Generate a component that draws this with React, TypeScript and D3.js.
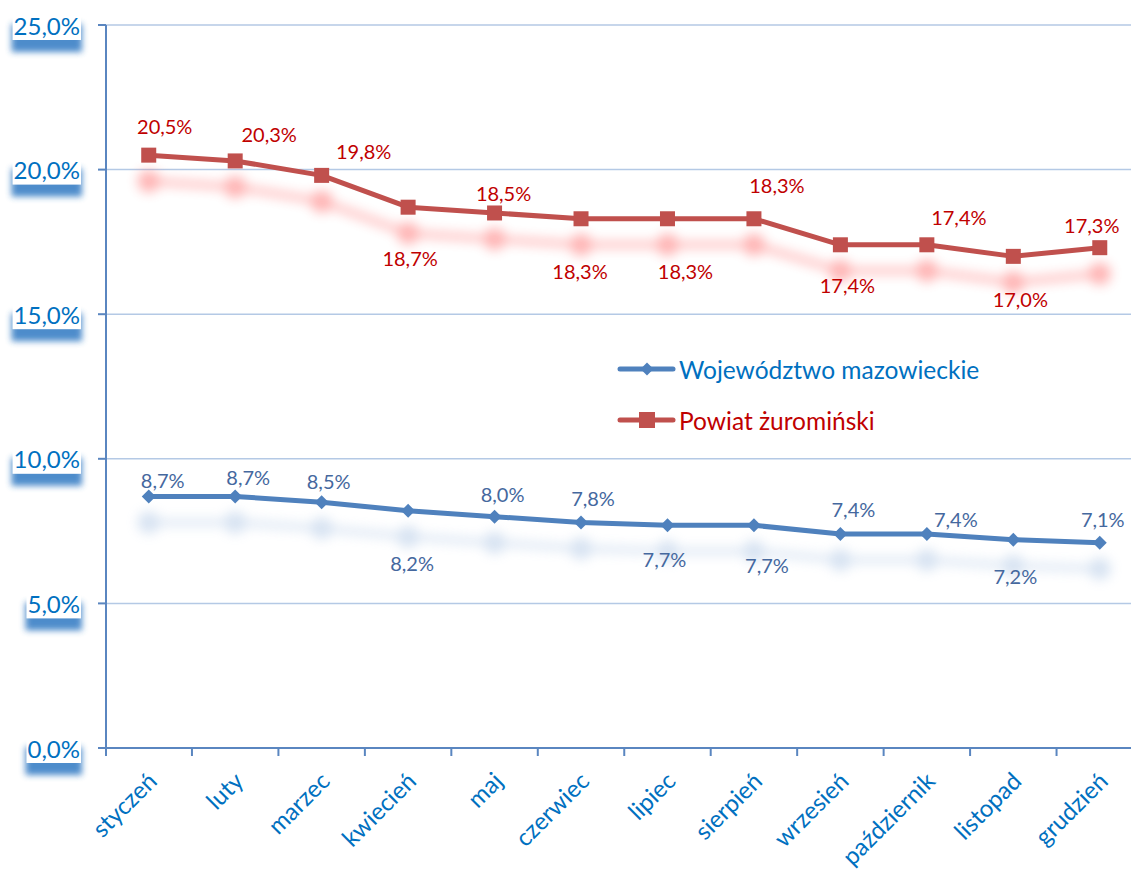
import React, { useEffect, useRef } from 'react';
import * as d3 from 'd3';

const months = ['styczeń', 'luty', 'marzec', 'kwiecień', 'maj', 'czerwiec', 'lipiec', 'sierpień', 'wrzesień', 'październik', 'listopad', 'grudzień'];
const mazowieckie = [8.7, 8.7, 8.5, 8.2, 8.0, 7.8, 7.7, 7.7, 7.4, 7.4, 7.2, 7.1];
const zurominski = [20.5, 20.3, 19.8, 18.7, 18.5, 18.3, 18.3, 18.3, 17.4, 17.4, 17.0, 17.3];
const yTicks = [0, 5, 10, 15, 20, 25];
const seriesNames = ['Województwo mazowieckie', 'Powiat żuromiński'];

// data-label placement (layout offsets from each point)
const blueLabelOffsets: [number, number][] = [[14, -16], [13, -19], [7, -21], [4, 52], [8, -23], [12, -24], [-3, 34], [13, 40], [13, -25], [29, -15], [2, 36], [3, -24]];
const redLabelOffsets: [number, number][] = [[16, -29], [34, -27], [42, -24], [2, 51], [9, -20], [-1, 52], [18, 52], [23, -34], [7, 40], [32, -28], [7, 43], [-8, -23]];

const W = 1131, H = 869;
const FONT = 'Lato, "Open Sans", sans-serif';
const BLUE = '#4F81BD', RED = '#C0504D';
const AXIS = '#5A86C0', GRID = '#B4C9E5';
const fmt = (v: number) => v.toFixed(1).replace('.', ',') + '%';
const diamond = (r: number) => `M0,${-r}L${r},0L0,${r}L${-r},0Z`;

export default function App() {
  const ref = useRef<SVGSVGElement>(null);
  useEffect(() => {
    const svg = d3.select(ref.current!);
    svg.selectAll('*').remove();
    const x = d3.scaleBand<string>().domain(months).range([105.5, 1143]).padding(0);
    const y = d3.scaleLinear().domain([0, 25]).range([748, 25]);
    const cx = (m: string) => (x(m) as number) + x.bandwidth() / 2;

    const defs = svg.append('defs');
    defs.append('filter').attr('id', 'shBlur').attr('x', '-10%').attr('y', '-100%').attr('width', '120%').attr('height', '300%')
      .append('feGaussianBlur').attr('stdDeviation', 6);
    defs.append('filter').attr('id', 'boxBlur').attr('x', '-30%').attr('y', '-60%').attr('width', '160%').attr('height', '220%')
      .append('feGaussianBlur').attr('stdDeviation', 3);

    // gridlines
    yTicks.filter(t => t > 0).forEach(t => {
      svg.append('line').attr('x1', 106).attr('x2', 1143).attr('y1', y(t)).attr('y2', y(t))
        .attr('stroke', GRID).attr('stroke-width', 1.5);
    });
    // axes
    svg.append('line').attr('x1', 98).attr('x2', 1143).attr('y1', y(0)).attr('y2', y(0)).attr('stroke', AXIS).attr('stroke-width', 2);
    svg.append('line').attr('x1', 106).attr('x2', 106).attr('y1', y(25)).attr('y2', y(0) + 8).attr('stroke', AXIS).attr('stroke-width', 2);
    yTicks.forEach(t => {
      svg.append('line').attr('x1', 98).attr('x2', 106).attr('y1', y(t)).attr('y2', y(t)).attr('stroke', AXIS).attr('stroke-width', 2);
    });
    for (let i = 1; i <= months.length; i++) {
      const xx = 105.5 + i * x.bandwidth();
      svg.append('line').attr('x1', xx).attr('x2', xx).attr('y1', y(0)).attr('y2', y(0) + 8).attr('stroke', AXIS).attr('stroke-width', 2);
    }

    // y labels with boxed shadow
    yTicks.forEach(t => {
      const g = svg.append('g');
      const sh = g.append('rect');
      const bg = g.append('rect');
      const tx = g.append('text').attr('x', 80).attr('y', y(t)).attr('text-anchor', 'end').attr('dominant-baseline', 'central')
        .attr('font-family', FONT).attr('font-size', 24).attr('fill', '#0070C0').text(fmt(t));
      const bb = (tx.node() as SVGTextElement).getBBox();
      const bx = bb.x - 1, bw = bb.width + 2, by = y(t) - 13, bh = 28;
      sh.attr('x', bx - 1).attr('y', by + 12).attr('width', bw + 2).attr('height', bh).attr('fill', '#2E78C2').attr('filter', 'url(#boxBlur)').attr('opacity', 0.85);
      bg.attr('x', bx).attr('y', by).attr('width', bw).attr('height', bh).attr('fill', '#fff');
    });

    // x labels
    months.forEach(m => {
      svg.append('text').attr('transform', `translate(${cx(m) + 3},${y(0) + 28}) rotate(-45)`)
        .attr('text-anchor', 'end').attr('dominant-baseline', 'central')
        .attr('font-family', FONT).attr('font-size', 24).attr('fill', '#0070C0').text(m);
    });

    const series = [
      { vals: mazowieckie, color: BLUE, shadow: '#8FB0DA', shOp: 0.35, label: '#45689E', offs: blueLabelOffsets, marker: 'diamond' },
      { vals: zurominski, color: RED, shadow: '#FF5A5A', shOp: 0.45, label: '#C00000', offs: redLabelOffsets, marker: 'square' },
    ];
    const line = d3.line<number>().x((_, i) => cx(months[i])).y(v => y(v));

    // shadows
    series.forEach(s => {
      const g = svg.append('g').attr('transform', 'translate(0,26)').attr('filter', 'url(#shBlur)').attr('opacity', s.shOp);
      g.append('path').attr('d', line(s.vals)!).attr('fill', 'none').attr('stroke', s.shadow).attr('stroke-width', 6);
      s.vals.forEach((v, i) => {
        g.append('circle').attr('cx', cx(months[i])).attr('cy', y(v)).attr('r', 11).attr('fill', s.shadow);
      });
    });

    // lines + markers
    series.forEach(s => {
      svg.append('path').attr('d', line(s.vals)!).attr('fill', 'none').attr('stroke', s.color)
        .attr('stroke-width', 5).attr('stroke-linejoin', 'round');
      s.vals.forEach((v, i) => {
        const px = cx(months[i]), py = y(v);
        if (s.marker === 'square') {
          svg.append('rect').attr('x', px - 7.5).attr('y', py - 7.5).attr('width', 15).attr('height', 15).attr('fill', s.color);
        } else {
          svg.append('path').attr('d', diamond(7)).attr('transform', `translate(${px},${py})`).attr('fill', s.color);
        }
      });
    });

    // data labels
    series.forEach(s => {
      s.vals.forEach((v, i) => {
        const [dx, dy] = s.offs[i];
        svg.append('text').attr('x', cx(months[i]) + dx).attr('y', y(v) + dy)
          .attr('text-anchor', 'middle').attr('dominant-baseline', 'central')
          .attr('font-family', FONT).attr('font-size', 20).attr('fill', s.label).text(fmt(v));
      });
    });

    // legend
    const legend = [
      { name: seriesNames[0], color: BLUE, text: '#0070C0', ly: 369, marker: 'diamond' },
      { name: seriesNames[1], color: RED, text: '#C00000', ly: 420, marker: 'square' },
    ];
    legend.forEach(l => {
      svg.append('line').attr('x1', 620).attr('x2', 673).attr('y1', l.ly).attr('y2', l.ly)
        .attr('stroke', l.color).attr('stroke-width', 5).attr('stroke-linecap', 'round');
      if (l.marker === 'square') {
        svg.append('rect').attr('x', 647 - 8).attr('y', l.ly - 8).attr('width', 16).attr('height', 16).attr('fill', l.color);
      } else {
        svg.append('path').attr('d', diamond(6.5)).attr('transform', `translate(647,${l.ly})`).attr('fill', l.color);
      }
      svg.append('text').attr('x', 679).attr('y', l.ly).attr('dominant-baseline', 'central')
        .attr('font-family', FONT).attr('font-size', 24.5).attr('fill', l.text).text(l.name);
    });
  }, []);
  return (
    <div style={{ position: 'absolute', left: 0, top: 0 }}>
      <svg ref={ref} width={W} height={H} style={{ display: 'block', background: '#fff' }} />
    </div>
  );
}
